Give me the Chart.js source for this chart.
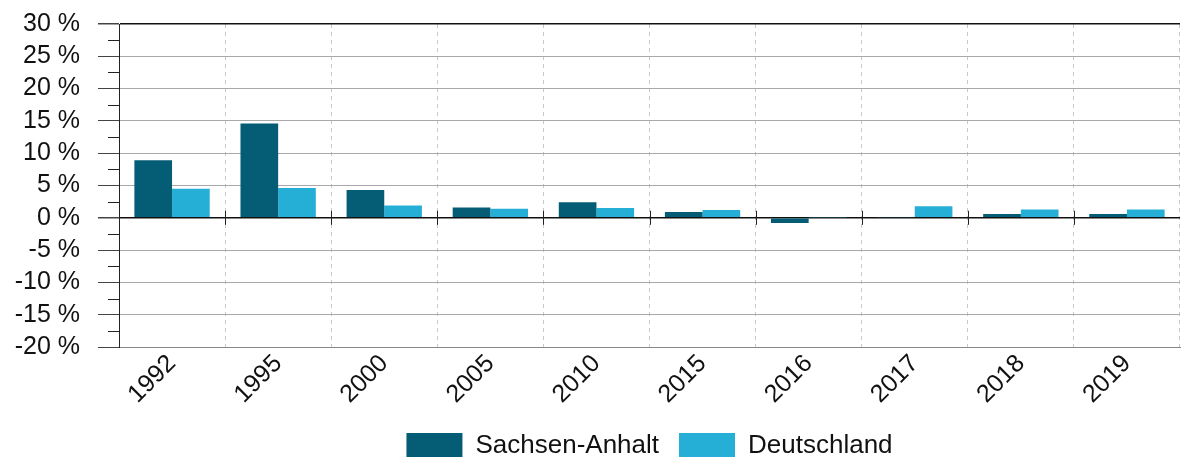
<!DOCTYPE html>
<html>
<head>
<meta charset="utf-8">
<script src="https://cdn.jsdelivr.net/npm/chart.js@4"></script>
<style>
  html, body { margin: 0; padding: 0; background: #fff; overflow: hidden; }
  #wrap { width: 1182px; height: 469px; position: relative; }
</style>
</head>
<body>
<div id="wrap"><canvas id="chart"></canvas></div>
<script>
const years = ['1992', '1995', '2000', '2005', '2010', '2015', '2016', '2017', '2018', '2019'];
const sachsenAnhalt = [8.9, 14.6, 4.3, 1.6, 2.4, 0.9, -0.8, 0.1, 0.6, 0.6];
const deutschland = [4.5, 4.6, 1.9, 1.4, 1.5, 1.2, 0.1, 1.8, 1.3, 1.3];
const yMin = -20, yMax = 30, yStep = 5;

// minor ticks on the y axis and tick marks on the zero line
const axisMarks = {
  id: 'axisMarks',
  afterDraw(chart) {
    const ctx = chart.ctx;
    const y = chart.scales.y, x = chart.scales.x;
    ctx.save();
    ctx.strokeStyle = '#222';
    ctx.lineWidth = 1;
    for (let v = yMin + yStep / 2; v < yMax; v += yStep) {
      const py = Math.round(y.getPixelForValue(v)) + 0.5;
      ctx.beginPath();
      ctx.moveTo(x.left - 11, py);
      ctx.lineTo(x.left, py);
      ctx.stroke();
    }
    const zero = y.getPixelForValue(0);
    const w = (x.right - x.left) / years.length;
    for (let i = 1; i < years.length; i++) {
      const px = Math.round(x.left + i * w) + 0.5;
      ctx.beginPath();
      ctx.moveTo(px, zero - 7);
      ctx.lineTo(px, zero + 7);
      ctx.stroke();
    }
    ctx.restore();
  }
};

new Chart(document.getElementById('chart'), {
  type: 'bar',
  data: {
    labels: years,
    datasets: [
      { label: 'Sachsen-Anhalt', data: sachsenAnhalt, backgroundColor: '#055c75' },
      { label: 'Deutschland', data: deutschland, backgroundColor: '#25afd6' }
    ]
  },
  options: {
    responsive: true,
    maintainAspectRatio: false,
    animation: false,
    layout: { padding: { top: 24, right: 2, left: 0, bottom: 0 } },
    datasets: { bar: { categoryPercentage: 0.71, barPercentage: 1.0 } },
    plugins: {
      tooltip: { enabled: false },
      legend: {
        position: 'bottom',
        fullSize: false,
        labels: {
          boxWidth: 56,
          boxHeight: 26,
          padding: 20,
          color: '#111',
          font: { family: 'Liberation Sans', size: 26 }
        }
      }
    },
    scales: {
      x: {
        grid: {
          color: '#c8c8c8',
          drawTicks: false
        },
        border: { display: true, color: '#888', dash: [4, 4] },
        ticks: {
          color: '#111',
          minRotation: 45,
          maxRotation: 45,
          padding: 2,
          font: { family: 'Liberation Sans', size: 25 }
        },
        afterFit(s) { s.height = 66; }
      },
      y: {
        min: yMin,
        max: yMax,
        ticks: {
          stepSize: yStep,
          autoSkip: false,
          color: '#111',
          padding: 18,
          font: { family: 'Liberation Sans', size: 25 },
          callback: v => v + ' %'
        },
        grid: {
          color: ctx => (ctx.tick && (ctx.tick.value === 0 || ctx.tick.value === yMax)) ? '#111' : '#a8a8a8',
          lineWidth: ctx => (ctx.tick && (ctx.tick.value === 0 || ctx.tick.value === yMax)) ? 1.5 : 1,
          tickLength: 21,
          tickColor: '#444'
        },
        border: { display: true, color: '#222' },
        afterFit(s) {
          s.width = 119;
          s.paddingTop = 0;
          s.paddingBottom = 0;
        }
      }
    }
  },
  plugins: [axisMarks]
});
</script>
</body>
</html>
